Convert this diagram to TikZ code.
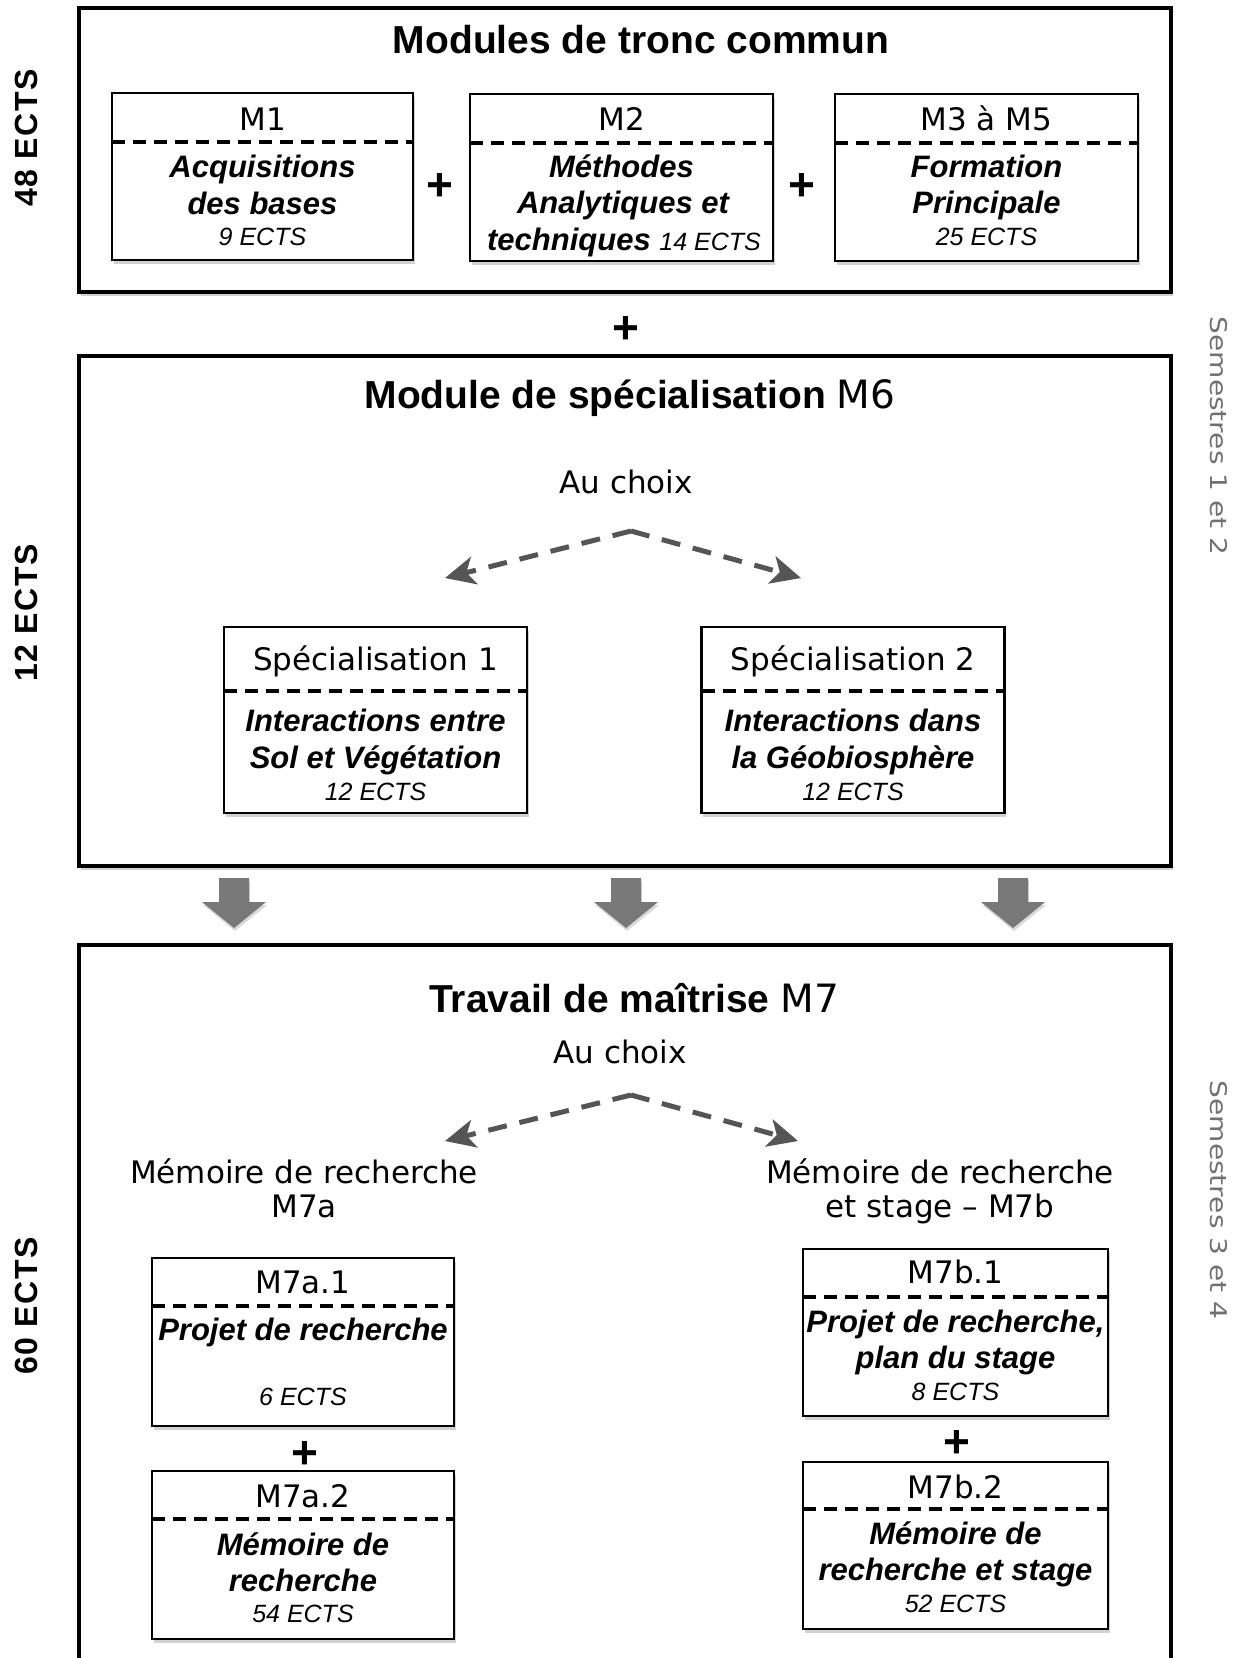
\documentclass[tikz,border=0pt]{standalone}
\usepackage{fontspec}
\setmainfont{Liberation Sans}
\newfontfamily\verd{DejaVu Sans}
\newfontfamily\spacedsans[LetterSpace=5]{Liberation Sans}
\usetikzlibrary{arrows.meta,shadows}
\newcommand\fsz[1]{\fontsize{#1}{#1}\selectfont}
\definecolor{arrowgray}{HTML}{555555}
\definecolor{blockgray}{HTML}{787878}
\definecolor{semgray}{HTML}{707070}
\begin{document}
\begin{tikzpicture}[x=1pt,y=-1pt,
  softshadow/.style={drop shadow={shadow xshift=1.5pt,shadow yshift=-4pt,opacity=0.18,fill=black}},
  outerbox/.style={draw=black,line width=4pt,fill=white,inner sep=0pt,outer sep=0pt,softshadow},
  modbox/.style={draw=black,line width=2.2pt,fill=white,inner sep=0pt,outer sep=0pt,softshadow},
  sepline/.style={line width=3.5pt,dash pattern=on 13pt off 8pt},
  lbl/.style={anchor=base,inner sep=0pt,font=\verd\fsz{31}},
  bi/.style={anchor=base,inner sep=0pt,font=\bfseries\itshape\fsz{31}},
  ects/.style={anchor=base,inner sep=0pt,font=\itshape\fsz{25}},
  plussign/.style={inner sep=0pt,font=\bfseries\fsz{46}},
  choice/.style={draw=arrowgray,line width=5pt,dash pattern=on 19pt off 13pt,-{Stealth[length=30pt,width=28pt,inset=8pt]}},
  ectslbl/.style={rotate=90,inner sep=0pt,font=\spacedsans\bfseries\fsz{32}},
  semlbl/.style={rotate=-90,inner sep=0pt,text=semgray,font=\verd\fsz{23}},
]
\useasboundingbox (0,0) rectangle (1246,1658);
\clip (0,0) rectangle (1246,1658);
\fill[white] (0,0) rectangle (1246,1658);

% ---------- outer boxes ----------
\node[outerbox,minimum width=1092pt,minimum height=284pt] (tronc) at (625,150) {};
\node[outerbox,minimum width=1092pt,minimum height=510pt] (spec) at (625,611) {};
\node[outerbox,minimum width=1092pt,minimum height=760pt] (trav) at (625,1325) {};

% ---------- side labels ----------
\node[ectslbl] (e48) at (26,138) {48 ECTS};
\node[ectslbl] (e12) at (26,613) {12 ECTS};
\node[ectslbl] (e60) at (26,1306) {60 ECTS};
\node[semlbl] (sem12) at (1219,436) {\scalebox{1.22}[1]{Semestres 1 et 2}};
\node[semlbl] (sem34) at (1219,1200) {\scalebox{1.22}[1]{Semestres 3 et 4}};

% ---------- box 1 ----------
\node[anchor=base,inner sep=0pt,font=\bfseries\fsz{39}] (t1) at (641,53) {Modules de tronc commun};

\node[modbox,minimum width=301pt,minimum height=167pt] (m1) at (262.5,176.5) {};
\draw[sepline] (m1.west |- 0,142) -- (m1.east |- 0,142);
\node[lbl] (m1a) at (262.5,130) {M1};
\node[bi] (m1b) at (262.5,177) {Acquisitions};
\node[bi] (m1c) at (262.5,214) {des bases};
\node[ects] (m1d) at (262.5,245) {9 ECTS};

\node[plussign] (p1) at (440,187) {+};

\node[modbox,minimum width=303pt,minimum height=167pt] (m2) at (621.5,177.5) {};
\draw[sepline] (m2.west |- 0,143) -- (m2.east |- 0,143);
\node[lbl] (m2a) at (621.5,130) {M2};
\node[bi] (m2b) at (621.5,177) {Méthodes};
\node[bi] (m2c) at (623,213) {Analytiques et};
\node[anchor=base,inner sep=0pt] (m2d) at (624,250) {\bfseries\itshape\fsz{31}techniques \mdseries\fsz{25}14 ECTS};

\node[plussign] (p2) at (802,187) {+};

\node[modbox,minimum width=303pt,minimum height=167pt] (m3) at (986.5,177.5) {};
\draw[sepline] (m3.west |- 0,143) -- (m3.east |- 0,143);
\node[lbl] (m3a) at (986.5,130) {M3 à M5};
\node[bi] (m3b) at (986.5,177) {Formation};
\node[bi] (m3c) at (986.5,213) {Principale};
\node[ects] (m3d) at (986.5,245) {25 ECTS};

\node[plussign] (p3) at (626,330) {+};

% ---------- box 2 ----------
\node[anchor=base,inner sep=0pt] (t2) at (630,408) {\bfseries\fsz{39}Module de spécialisation \mdseries\verd M6};
\node[lbl] (ch1) at (626,493) {Au choix};
\coordinate (apex1) at (631,531);
\coordinate (tip1l) at (445,578);
\coordinate (tip1r) at (801,578);
\draw[choice] (apex1) -- (tip1l);
\draw[choice] (apex1) -- (tip1r);

\node[modbox,minimum width=303pt,minimum height=186pt] (s1) at (375.5,720) {};
\draw[sepline] (s1.west |- 0,691) -- (s1.east |- 0,691);
\node[lbl] (s1a) at (375.5,670) {Spécialisation 1};
\node[bi] (s1b) at (375.5,731) {Interactions entre};
\node[bi] (s1c) at (375.5,768) {Sol et Végétation};
\node[ects] (s1d) at (375.5,800) {12 ECTS};

\node[modbox,minimum width=303pt,minimum height=186pt] (s2) at (853,720) {};
\draw[sepline] (s2.west |- 0,691) -- (s2.east |- 0,691);
\node[lbl] (s2a) at (853,670) {Spécialisation 2};
\node[bi] (s2b) at (853,731) {Interactions dans};
\node[bi] (s2c) at (853,768) {la Géobiosphère};
\node[ects] (s2d) at (853,800) {12 ECTS};

% ---------- block arrows ----------
\foreach \ax in {234,626,1013}{
  \fill[blockgray,drop shadow={shadow xshift=1pt,shadow yshift=-3pt,opacity=0.15,fill=black}]
    (\ax-15,878) -- (\ax+15,878) -- (\ax+15,902) -- (\ax+32,902) -- (\ax,928)
    -- (\ax-32,902) -- (\ax-15,902) -- cycle;
}

% ---------- box 3 ----------
\node[anchor=base,inner sep=0pt] (t3) at (634,1012) {\bfseries\fsz{39}Travail de maîtrise \mdseries\verd M7};
\node[lbl] (ch2) at (620,1063) {Au choix};
\coordinate (apex2) at (631,1095);
\coordinate (tip2l) at (445,1141);
\coordinate (tip2r) at (798,1141);
\draw[choice] (apex2) -- (tip2l);
\draw[choice] (apex2) -- (tip2r);

\node[lbl] (ma1) at (304,1183) {Mémoire de recherche};
\node[lbl] (ma2) at (304,1217) {M7a};
\node[lbl] (mb1) at (940,1183) {Mémoire de recherche};
\node[lbl] (mb2) at (940,1217) {et stage – M7b};

\node[modbox,minimum width=302pt,minimum height=168pt] (a1) at (303,1342) {};
\draw[sepline] (a1.west |- 0,1306) -- (a1.east |- 0,1306);
\node[lbl] (a1a) at (303,1293) {M7a.1};
\node[bi] (a1b) at (303,1340) {Projet de recherche};
\node[ects] (a1c) at (303,1405) {6 ECTS};

\node[plussign] (p4) at (305,1455) {+};

\node[modbox,minimum width=302pt,minimum height=168pt] (a2) at (303,1555) {};
\draw[sepline] (a2.west |- 0,1519) -- (a2.east |- 0,1519);
\node[lbl] (a2a) at (303,1507) {M7a.2};
\node[bi] (a2b) at (303,1555) {Mémoire de};
\node[bi] (a2c) at (303,1591) {recherche};
\node[ects] (a2d) at (303,1622) {54 ECTS};

\node[modbox,minimum width=305pt,minimum height=167pt] (b1) at (955.5,1332.5) {};
\draw[sepline] (b1.west |- 0,1297) -- (b1.east |- 0,1297);
\node[lbl] (b1a) at (955.5,1283) {M7b.1};
\node[bi] (b1b) at (955.5,1332) {Projet de recherche,};
\node[bi] (b1c) at (955.5,1368) {plan du stage};
\node[ects] (b1d) at (955.5,1400) {8 ECTS};

\node[plussign] (p5) at (957,1444) {+};

\node[modbox,minimum width=305pt,minimum height=167pt] (b2) at (955.5,1545.5) {};
\draw[sepline] (b2.west |- 0,1509) -- (b2.east |- 0,1509);
\node[lbl] (b2a) at (955.5,1498) {M7b.2};
\node[bi] (b2b) at (955.5,1544) {Mémoire de};
\node[bi] (b2c) at (955.5,1580) {recherche et stage};
\node[ects] (b2d) at (955.5,1612) {52 ECTS};
\end{tikzpicture}
\end{document}
